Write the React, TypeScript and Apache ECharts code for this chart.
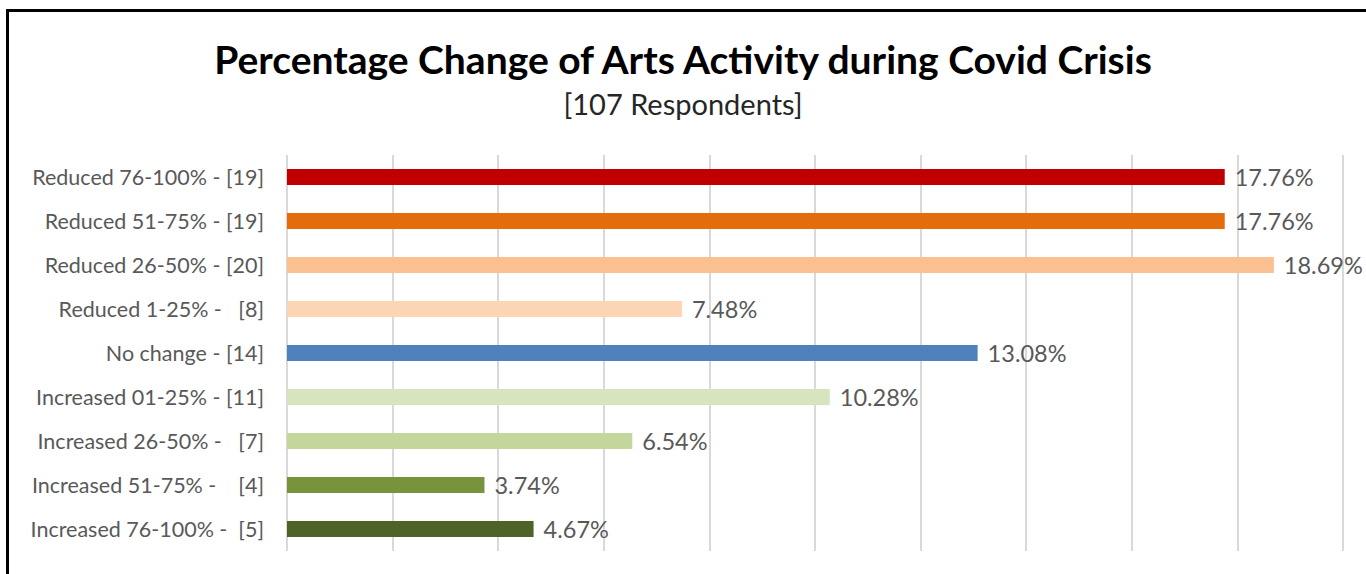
import React, { useEffect, useRef } from "react";
import * as echarts from "echarts";

const categories = [
  "Reduced 76-100% - [19]",
  "Reduced 51-75% - [19]",
  "Reduced 26-50% - [20]",
  "Reduced 1-25% -   [8]",
  "No change - [14]",
  "Increased 01-25% - [11]",
  "Increased 26-50% -   [7]",
  "Increased 51-75% -    [4]",
  "Increased 76-100% -  [5]",
];
const values = [17.76, 17.76, 18.69, 7.48, 13.08, 10.28, 6.54, 3.74, 4.67];
const colors = ["#C00000", "#E46C0A", "#FAC090", "#FCD5B5", "#4F81BD", "#D7E4BD", "#C3D69B", "#77933C", "#4F6228"];
const titleText = "Percentage Change of Arts Activity during Covid Crisis";
const subtitleText = "[107 Respondents]";

const FONT = "Lato";

export default function App() {
  const ref = useRef<HTMLDivElement>(null);
  useEffect(() => {
    if (!ref.current) return;
    const chart = echarts.init(ref.current, null, { renderer: "svg" });
    chart.setOption({
      animation: false,
      backgroundColor: "#ffffff",
      graphic: [
        {
          type: "rect",
          shape: { x: 7.5, y: 10.5, width: 1400, height: 600 },
          style: { fill: "none", stroke: "#000000", lineWidth: 3 },
          silent: true,
        },
      ],
      title: [
        {
          text: titleText,
          left: "center",
          top: 38,
          padding: 0,
          textStyle: { fontFamily: FONT, fontWeight: "bold", fontSize: 39, lineHeight: 42, color: "#000000" },
        },
        {
          text: subtitleText,
          left: "center",
          top: 87,
          padding: 0,
          textStyle: { fontFamily: FONT, fontWeight: "normal", fontSize: 29, lineHeight: 32, color: "#262626" },
        },
      ],
      grid: { left: 287, right: 23, top: 155, bottom: 23, containLabel: false },
      xAxis: {
        type: "value",
        min: 0,
        max: 20,
        interval: 2,
        axisLabel: { show: false },
        axisLine: { show: false },
        axisTick: { show: false },
        splitLine: { show: true, lineStyle: { color: "#d9d9d9", width: 2 } },
      },
      yAxis: {
        type: "category",
        inverse: true,
        data: categories,
        axisLine: { show: false },
        axisTick: { show: false },
        axisLabel: { fontFamily: FONT, fontSize: 21.5, color: "#595959", margin: 23 },
      },
      series: [
        {
          type: "bar",
          data: values.map((v, i) => ({ value: v, itemStyle: { color: colors[i] } })),
          barWidth: 16,
          label: {
            show: true,
            position: "right",
            distance: 10,
            formatter: (p: any) => p.value.toFixed(2) + "%",
            fontFamily: FONT,
            fontSize: 23.5,
            color: "#595959",
          },
        },
      ],
    });
    return () => chart.dispose();
  }, []);
  return <div ref={ref} style={{ position: "absolute", left: 0, top: 0, width: 1366, height: 574 }} />;
}
